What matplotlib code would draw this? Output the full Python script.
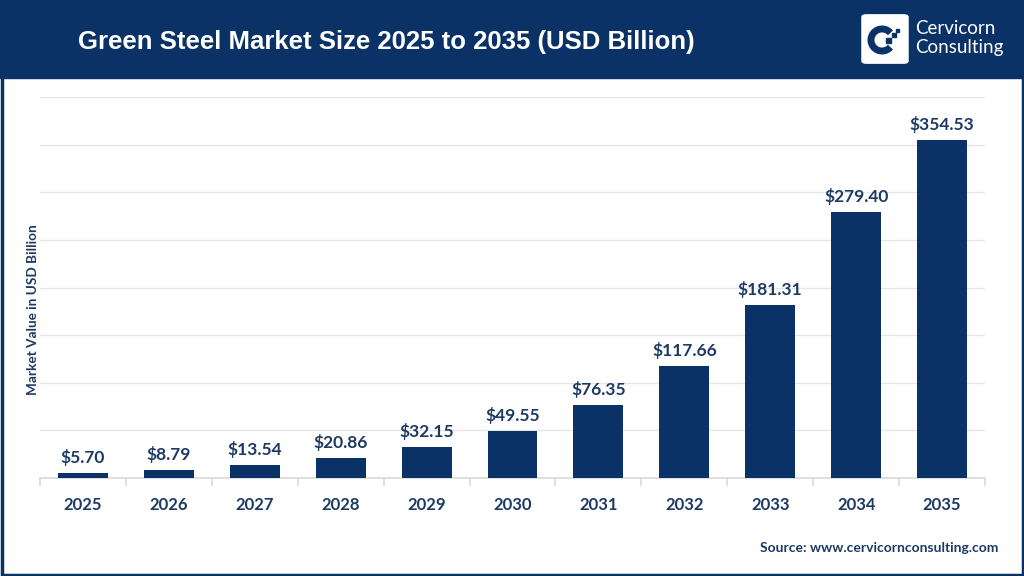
import matplotlib
matplotlib.use("Agg")
import matplotlib.pyplot as plt
from matplotlib.patches import Rectangle, FancyBboxPatch, Arc

years = ["2025", "2026", "2027", "2028", "2029", "2030", "2031", "2032", "2033", "2034", "2035"]
values = [5.70, 8.79, 13.54, 20.86, 32.15, 49.55, 76.35, 117.66, 181.31, 279.40, 354.53]

NAVY = "#0b3266"
TEXT = "#1c3a63"

plt.rcParams['font.family'] = ['Lato', 'DejaVu Sans']

fig = plt.figure(figsize=(10.24, 5.76), dpi=100)
W, H = 1024, 576

def fx(px):
    return px / W

def fy(py):
    return 1 - py / H

# header band and outer border
fig.patches.append(Rectangle((0, fy(78)), 1, 78 / H, transform=fig.transFigure,
                             color=NAVY, zorder=0))
fig.patches.append(Rectangle((fx(1.5), fy(574.5)), 1 - 3 / W, 1 - 3 / H, transform=fig.transFigure,
                             fill=False, edgecolor=NAVY, linewidth=2.5, zorder=5))

fig.text(fx(78), fy(42), "Green Steel Market Size 2025 to 2035 (USD Billion)",
         color="white", fontsize=18.5, fontweight="bold", va="center", ha="left",
         family=['Liberation Sans', 'DejaVu Sans'])

# logo
fig.patches.append(FancyBboxPatch((fx(864), fy(62)), 42 / W, 46 / H,
                                  boxstyle="round,pad=0.002,rounding_size=0.004",
                                  transform=fig.transFigure, color="white", zorder=1))
lax = fig.add_axes([fx(864), fy(62), 42 / W, 46 / H], zorder=10)
lax.set_xlim(0, 42)
lax.set_ylim(0, 46)
lax.axis("off")
lax.patch.set_alpha(0)
lax.add_patch(Arc((18, 22), 22, 22, theta1=40, theta2=320, linewidth=5, color=NAVY))
lax.add_patch(Rectangle((22, 19), 5, 5, color=NAVY))
lax.add_patch(Rectangle((28, 25), 4, 4, color=NAVY))
lax.add_patch(Rectangle((32, 30), 3, 3, color=NAVY))
fig.text(fx(915), fy(29), "Cervicorn", color="white", fontsize=13.5, va="center", ha="left")
fig.text(fx(915), fy(47), "Consulting", color="white", fontsize=13.5, va="center", ha="left")

# main chart
ax = fig.add_axes([fx(40), fy(478), (985 - 40) / W, (478 - 97) / H])
x = list(range(len(years)))
ax.bar(x, values, width=0.58, color=NAVY, zorder=3)
ax.set_xlim(-0.5, len(years) - 0.5)
ax.set_ylim(0, 400)
ax.set_yticks(range(0, 401, 50))
ax.yaxis.grid(True, color="#e6e6e6", linewidth=1, zorder=0)
ax.tick_params(axis="y", length=0, labelleft=False)
for s in ["top", "right", "left"]:
    ax.spines[s].set_visible(False)
ax.spines["bottom"].set_color("#d9d9d9")
ax.spines["bottom"].set_linewidth(1.2)

ax.set_xticks(x)
ax.set_xticklabels(years, fontsize=12, fontweight="bold", color=TEXT)
ax.tick_params(axis="x", length=0, pad=14)
ax.set_xticks([i - 0.5 for i in range(len(years) + 1)], minor=True)
ax.tick_params(axis="x", which="minor", length=6, color="#d9d9d9", width=1.2)

for xi, v in zip(x, values):
    ax.annotate(f"${v:.2f}", (xi, v), xytext=(0, 5), textcoords="offset points",
                ha="center", va="bottom", fontsize=12.5, fontweight="bold", color=TEXT)

fig.text(fx(33), fy(310), "Market Value in USD Billion", rotation=90, fontsize=9.8,
         fontweight="bold", color=TEXT, ha="center", va="center")

fig.text(fx(998), fy(548), "Source: www.cervicornconsulting.com", fontsize=10,
         fontweight="bold", color=TEXT, ha="right", va="center")

fig.savefig("out.png", dpi=100)
